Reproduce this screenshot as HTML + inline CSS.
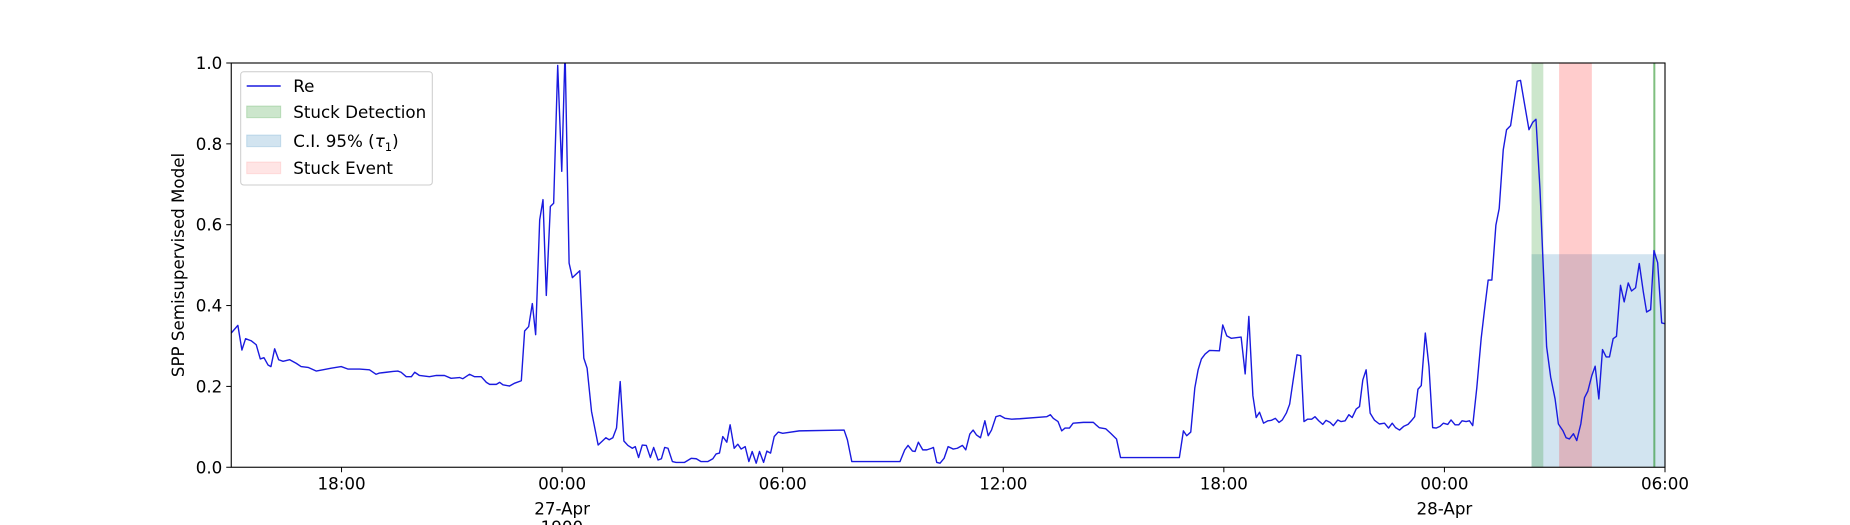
<!DOCTYPE html>
<html><head><meta charset="utf-8"><style>
html,body{margin:0;padding:0;background:#fff;}
svg{display:block;font-family:"DejaVu Sans","Liberation Sans",sans-serif;}
</style></head><body>
<svg id="chart" width="1850" height="525" viewBox="0 0 1850 525">
<defs><clipPath id="plotclip"><rect x="231.25" y="63" width="1433.75" height="404.25"/></clipPath></defs>
<g id="spans" clip-path="url(#plotclip)"></g>
<g id="series" clip-path="url(#plotclip)"></g>
<rect x="231.25" y="63" width="1433.75" height="404.25" fill="none" stroke="#000" stroke-width="1.1"/>
<g id="xaxis"></g>
<g id="yaxis"></g>
<text x="184" y="265" font-size="16.7" text-anchor="middle" transform="rotate(-90 184 265)">SPP Semisupervised Model</text>
<text x="561.9" y="533" font-size="16.7" text-anchor="middle">1900</text>
<g>
<rect x="240.7" y="71.7" width="191.6" height="113.3" rx="3" fill="#fff" fill-opacity="0.8" stroke="#ccc" stroke-width="1"/>
<line x1="246.7" y1="86" x2="280.7" y2="86" stroke="#1a1adf" stroke-width="1.5"/>
<text x="293.3" y="92" font-size="16.7">Re</text>
<rect x="246.7" y="106" width="34" height="11.7" fill="#008000" fill-opacity="0.2" stroke="#008000" stroke-opacity="0.2"/>
<text x="293.3" y="118" font-size="16.7">Stuck Detection</text>
<rect x="246.7" y="135" width="34" height="11.7" fill="#1f77b4" fill-opacity="0.2" stroke="#1f77b4" stroke-opacity="0.2"/>
<text x="293.3" y="147" font-size="16.7">C.I. 95% (<tspan font-style="italic">τ</tspan><tspan font-size="11.5" dy="4">1</tspan><tspan dy="-4">)</tspan></text>
<rect x="246.7" y="162" width="34" height="11.7" fill="#ff0000" fill-opacity="0.1" stroke="#ff0000" stroke-opacity="0.1"/>
<text x="293.3" y="174" font-size="16.7">Stuck Event</text>
</g>
</svg>
<script>
// hours relative to 27-Apr 00:00
const hours = [-9,-8.82,-8.71,-8.61,-8.46,-8.32,-8.21,-8.11,-8.0,-7.92,-7.82,-7.71,-7.59,-7.41,-7.23,-7.10,-6.91,-6.69,-6.51,-6.28,-6.01,-5.83,-5.51,-5.24,-5.06,-4.97,-4.78,-4.60,-4.47,-4.38,-4.24,-4.10,-4.01,-3.88,-3.61,-3.42,-3.20,-3.02,-2.79,-2.70,-2.52,-2.38,-2.20,-2.06,-1.97,-1.79,-1.70,-1.61,-1.43,-1.29,-1.11,-1.02,-0.91,-0.81,-0.72,-0.61,-0.52,-0.43,-0.32,-0.23,-0.12,-0.01,0.08,0.19,0.28,0.48,0.59,0.68,0.80,0.98,1.19,1.28,1.38,1.48,1.58,1.68,1.79,1.91,1.99,2.08,2.18,2.29,2.40,2.49,2.61,2.70,2.79,2.88,3.00,3.10,3.33,3.51,3.65,3.78,3.96,4.10,4.19,4.28,4.37,4.48,4.57,4.68,4.78,4.87,4.98,5.08,5.17,5.28,5.37,5.48,5.57,5.67,5.77,5.88,6.00,6.45,7.67,7.76,7.88,9.19,9.32,9.41,9.53,9.60,9.69,9.81,9.92,10.05,10.10,10.19,10.28,10.39,10.50,10.64,10.75,10.89,10.98,11.09,11.18,11.27,11.38,11.50,11.59,11.68,11.80,11.91,12.05,12.23,12.45,13.18,13.28,13.36,13.49,13.59,13.68,13.80,13.90,14.18,14.45,14.52,14.61,14.79,14.92,15.08,15.19,16.79,16.90,16.99,17.10,17.21,17.30,17.39,17.49,17.61,17.88,17.97,18.08,18.20,18.47,18.58,18.68,18.79,18.88,18.97,19.08,19.20,19.29,19.40,19.50,19.59,19.70,19.79,19.88,19.99,20.09,20.18,20.28,20.39,20.48,20.58,20.69,20.78,20.89,20.98,21.10,21.19,21.30,21.40,21.49,21.60,21.69,21.78,21.87,21.98,22.10,22.23,22.37,22.48,22.58,22.67,22.78,22.89,23.01,23.10,23.19,23.28,23.37,23.48,23.58,23.68,23.78,23.88,23.97,24.09,24.18,24.29,24.39,24.48,24.59,24.68,24.77,24.88,25.00,25.09,25.19,25.29,25.40,25.49,25.60,25.69,25.80,25.98,26.07,26.19,26.30,26.40,26.49,26.60,26.78,26.89,27.01,27.10,27.22,27.31,27.40,27.51,27.60,27.71,27.81,27.90,28.01,28.10,28.20,28.30,28.40,28.49,28.59,28.68,28.79,28.89,29.00,29.09,29.20,29.30,29.41,29.50,29.61,29.70,29.80,29.91,30.0];
const reValues = [0.332,0.351,0.29,0.318,0.313,0.303,0.268,0.271,0.253,0.249,0.293,0.266,0.262,0.266,0.257,0.249,0.247,0.238,0.241,0.245,0.249,0.243,0.243,0.241,0.230,0.233,0.235,0.237,0.238,0.235,0.224,0.224,0.235,0.227,0.224,0.227,0.227,0.220,0.222,0.219,0.230,0.224,0.224,0.210,0.205,0.205,0.210,0.204,0.201,0.208,0.214,0.337,0.348,0.405,0.328,0.612,0.662,0.425,0.645,0.653,0.994,0.732,1.03,0.505,0.469,0.486,0.270,0.245,0.138,0.055,0.073,0.068,0.073,0.097,0.212,0.065,0.054,0.047,0.051,0.024,0.055,0.054,0.024,0.049,0.018,0.021,0.049,0.047,0.014,0.012,0.012,0.022,0.021,0.014,0.014,0.021,0.033,0.035,0.076,0.062,0.105,0.047,0.057,0.045,0.051,0.014,0.039,0.010,0.039,0.012,0.040,0.035,0.076,0.087,0.084,0.090,0.092,0.068,0.014,0.014,0.043,0.054,0.040,0.039,0.062,0.043,0.043,0.047,0.049,0.012,0.010,0.022,0.051,0.045,0.047,0.054,0.043,0.082,0.092,0.080,0.073,0.115,0.078,0.092,0.125,0.128,0.121,0.119,0.120,0.125,0.130,0.121,0.113,0.090,0.097,0.097,0.109,0.111,0.111,0.105,0.098,0.095,0.084,0.070,0.024,0.024,0.090,0.078,0.087,0.196,0.241,0.268,0.280,0.289,0.288,0.352,0.325,0.319,0.322,0.231,0.373,0.177,0.123,0.136,0.109,0.115,0.116,0.121,0.111,0.117,0.134,0.156,0.212,0.278,0.276,0.113,0.119,0.119,0.125,0.115,0.106,0.116,0.111,0.103,0.117,0.113,0.115,0.130,0.123,0.144,0.150,0.216,0.241,0.134,0.116,0.107,0.109,0.097,0.109,0.098,0.092,0.101,0.106,0.115,0.125,0.193,0.202,0.332,0.249,0.098,0.097,0.101,0.109,0.106,0.117,0.105,0.105,0.115,0.113,0.115,0.103,0.196,0.319,0.389,0.463,0.463,0.599,0.640,0.785,0.835,0.845,0.955,0.957,0.893,0.835,0.853,0.861,0.686,0.298,0.223,0.169,0.107,0.091,0.073,0.070,0.083,0.066,0.107,0.172,0.188,0.227,0.250,0.169,0.291,0.273,0.273,0.318,0.324,0.450,0.409,0.456,0.436,0.444,0.504,0.434,0.384,0.390,0.536,0.506,0.357,0.355];
const detectionSpan = [26.37, 26.69];
const eventSpan = [27.12, 28.01];
const ciSpan = [26.37, 30.0];
const ciTop = [0.527];
const detectionLine = [29.71];
const xTickHours = [-6, 0, 6, 12, 18, 24, 30];
const xTickLabels = ["18:00", "00:00", "06:00", "12:00", "18:00", "00:00", "06:00"];
const xTickSub = ["", "27-Apr", "", "", "", "28-Apr", ""];
const yTicks = [0, 0.2, 0.4, 0.6, 0.8, 1.0];
const yTickLabels = ["0.0", "0.2", "0.4", "0.6", "0.8", "1.0"];

const X0 = 231.25, X1 = 1665, Y0 = 467.25, Y1 = 63, HMIN = -9, HMAX = 30;
const NS = "http://www.w3.org/2000/svg";
function xs(h){ return X0 + (h - HMIN) / (HMAX - HMIN) * (X1 - X0); }
function ys(v){ return Y0 - v * (Y0 - Y1); }
function mk(tag, attrs, parent){ const e = document.createElementNS(NS, tag); for (const k in attrs) e.setAttribute(k, attrs[k]); parent.appendChild(e); return e; }

const spans = document.getElementById('spans');
let r = mk('rect', {x: xs(ciSpan[0]), y: ys(ciTop[0]), width: xs(ciSpan[1]) - xs(ciSpan[0]), height: ys(0) - ys(ciTop[0]), fill: '#1f77b4', 'fill-opacity': 0.2}, spans);


r = mk('rect', {x: xs(detectionSpan[0]), y: Y1, width: xs(detectionSpan[1]) - xs(detectionSpan[0]), height: Y0 - Y1, fill: '#008000', 'fill-opacity': 0.2}, spans);


r = mk('rect', {x: xs(eventSpan[0]), y: Y1, width: xs(eventSpan[1]) - xs(eventSpan[0]), height: Y0 - Y1, fill: '#ff0000', 'fill-opacity': 0.2}, spans);


r = mk('line', {x1: xs(detectionLine[0]), x2: xs(detectionLine[0]), y1: Y1, y2: Y0, stroke: '#008000', 'stroke-opacity': 0.5, 'stroke-width': 2}, spans);



const series = document.getElementById('series');
let d = '';
for (let i = 0; i < hours.length; i++) d += (i ? 'L' : 'M') + xs(hours[i]).toFixed(2) + ',' + ys(reValues[i]).toFixed(2);
const p = mk('path', {d: d, fill: 'none', stroke: '#1a1adf', 'stroke-width': 1.4, 'stroke-linejoin': 'round'}, series);



const xa = document.getElementById('xaxis');
for (let i = 0; i < xTickHours.length; i++) {
  const x = xs(xTickHours[i]);
  const t = mk('line', {x1: x, x2: x, y1: Y0, y2: Y0 + 5, stroke: '#000', 'stroke-width': 1}, xa);
  
  
  const lb = mk('text', {x: x, y: Y0 + 22, 'font-size': 16.7, 'text-anchor': 'middle'}, xa);
  lb.textContent = xTickLabels[i];
  
  
  if (xTickSub[i]) {
    const sb = mk('text', {x: x, y: Y0 + 47, 'font-size': 16.7, 'text-anchor': 'middle'}, xa);
    sb.textContent = xTickSub[i];
    
    
  }
}
const ya = document.getElementById('yaxis');
for (let i = 0; i < yTicks.length; i++) {
  const y = ys(yTicks[i]);
  const t = mk('line', {x1: X0 - 5, x2: X0, y1: y, y2: y, stroke: '#000', 'stroke-width': 1}, ya);
  
  
  const lb = mk('text', {x: X0 - 9, y: y + 6, 'font-size': 16.7, 'text-anchor': 'end'}, ya);
  lb.textContent = yTickLabels[i];
  
  
}
</script>
</body></html>
